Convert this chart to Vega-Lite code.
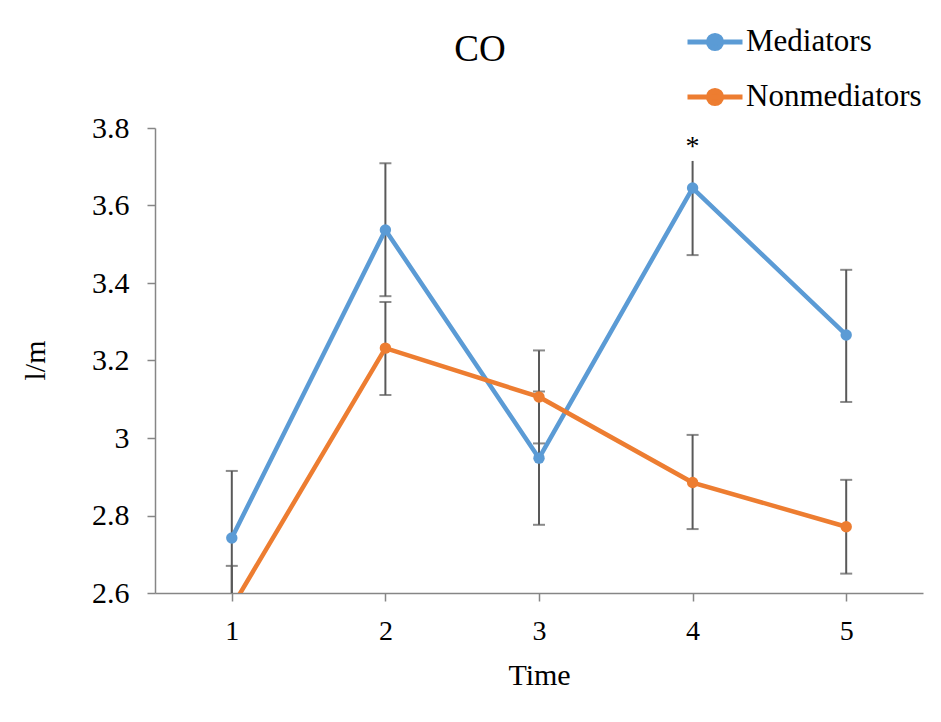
{
  "$schema": "https://vega.github.io/schema/vega-lite/v6.json",
  "autosize": {"type": "none"},
  "padding": {"left": 155, "top": 128, "right": 18, "bottom": 129},
  "width": 768,
  "height": 465,
  "background": "white",
  "title": {"text": "CO", "anchor": "middle", "dx": -59, "offset": 0, "dy": 57, "font": "Liberation Serif", "fontSize": 37, "fontWeight": "normal", "color": "black"},
  "config": {
    "view": {"stroke": null},
    "font": "Liberation Serif",
    "axis": {"labelFont": "Liberation Serif", "titleFont": "Liberation Serif", "labelColor": "black", "titleColor": "black"}
  },
  "data": {"values": [
    {"series": "Mediators", "time": 1, "value": 2.742, "lo": 2.57, "hi": 2.915},
    {"series": "Mediators", "time": 2, "value": 3.537, "lo": 3.366, "hi": 3.709},
    {"series": "Mediators", "time": 3, "value": 2.948, "lo": 2.776, "hi": 3.12},
    {"series": "Mediators", "time": 4, "value": 3.645, "lo": 3.472, "hi": 3.715, "sig": "*"},
    {"series": "Mediators", "time": 5, "value": 3.266, "lo": 3.093, "hi": 3.434},
    {"series": "Nonmediators", "time": 1, "value": 2.563, "lo": 2.456, "hi": 2.67},
    {"series": "Nonmediators", "time": 2, "value": 3.232, "lo": 3.111, "hi": 3.351},
    {"series": "Nonmediators", "time": 3, "value": 3.106, "lo": 2.986, "hi": 3.226},
    {"series": "Nonmediators", "time": 4, "value": 2.885, "lo": 2.765, "hi": 3.008},
    {"series": "Nonmediators", "time": 5, "value": 2.771, "lo": 2.65, "hi": 2.892}
  ]},
  "encoding": {
    "x": {"field": "time", "type": "quantitative",
      "scale": {"domain": [0.5, 5.5], "nice": false, "zero": false},
      "axis": {"values": [1, 2, 3, 4, 5], "format": "d", "grid": false,
        "domainColor": "#868686", "domainWidth": 1.5, "tickColor": "#868686", "tickSize": 8, "tickWidth": 1.5,
        "labelFont": "Liberation Serif", "labelFontSize": 28, "labelColor": "black", "labelPadding": 16,
        "title": "Time", "titleFont": "Liberation Serif", "titleFontSize": 30, "titleFontWeight": "normal", "titleColor": "black",
        "titleX": 384, "titleY": 82, "titleBaseline": "middle", "titleAlign": "center"}
    },
    "y": {"type": "quantitative",
      "scale": {"domain": [2.6, 3.8], "nice": false, "zero": false},
      "axis": {"values": [2.6, 2.8, 3, 3.2, 3.4, 3.6, 3.8], "format": "~g", "grid": false,
        "domainColor": "#868686", "domainWidth": 1.5, "tickColor": "#868686", "tickSize": 8, "tickWidth": 1.5,
        "labelFont": "Liberation Serif", "labelFontSize": 30, "labelColor": "black", "labelPadding": 18,
        "title": "l/m", "titleFont": "Liberation Serif", "titleFontSize": 30, "titleFontWeight": "normal", "titleColor": "black",
        "titleX": -120, "titleY": 232, "titleBaseline": "middle", "titleAlign": "center", "titleAngle": -90}}
  },
  "layer": [
    {
      "mark": {"type": "rule", "color": "#595959", "strokeWidth": 2, "clip": true},
      "encoding": {
        "y": {"field": "lo", "type": "quantitative"},
        "y2": {"field": "hi"}
      }
    },
    {
      "mark": {"type": "tick", "orient": "horizontal", "color": "#595959", "thickness": 2, "size": 12, "clip": true},
      "encoding": {"y": {"field": "lo", "type": "quantitative"}}
    },
    {
      "transform": [{"filter": "!datum.sig"}],
      "mark": {"type": "tick", "orient": "horizontal", "color": "#595959", "thickness": 2, "size": 12, "clip": true},
      "encoding": {"y": {"field": "hi", "type": "quantitative"}}
    },
    {
      "mark": {"type": "line", "strokeWidth": 4.5, "clip": true},
      "encoding": {
        "y": {"field": "value", "type": "quantitative"},
        "color": {"field": "series", "type": "nominal",
          "scale": {"domain": ["Mediators", "Nonmediators"], "range": ["#5B9BD5", "#ED7D31"]},
          "legend": {"orient": "none", "legendX": 530, "legendY": -116, "title": null, "padding": 0,
            "symbolType": "M-1,0H1M-0.24,0A0.24,0.24,0,1,1,0.24,0A0.24,0.24,0,1,1,-0.24,0",
            "symbolSize": 3025, "symbolStrokeWidth": 5,
            "labelFont": "Liberation Serif", "labelFontSize": 31, "labelColor": "black", "labelOffset": 1, "rowPadding": 8,
            "labelLimit": 400,
            "encode": {"symbols": {"update": {"fill": {"scale": "color", "field": "value"}, "stroke": {"scale": "color", "field": "value"}, "opacity": {"value": 1}}}}}
        }
      }
    },
    {
      "mark": {"type": "point", "filled": true, "size": 130, "opacity": 1, "clip": true},
      "encoding": {
        "y": {"field": "value", "type": "quantitative"},
        "color": {"field": "series", "type": "nominal"}
      }
    },
    {
      "transform": [{"filter": "datum.sig"}],
      "mark": {"type": "text", "font": "Liberation Serif", "fontSize": 28, "baseline": "alphabetic", "dy": -6, "color": "black"},
      "encoding": {
        "y": {"field": "hi", "type": "quantitative"},
        "text": {"field": "sig"}
      }
    }
  ]
}
